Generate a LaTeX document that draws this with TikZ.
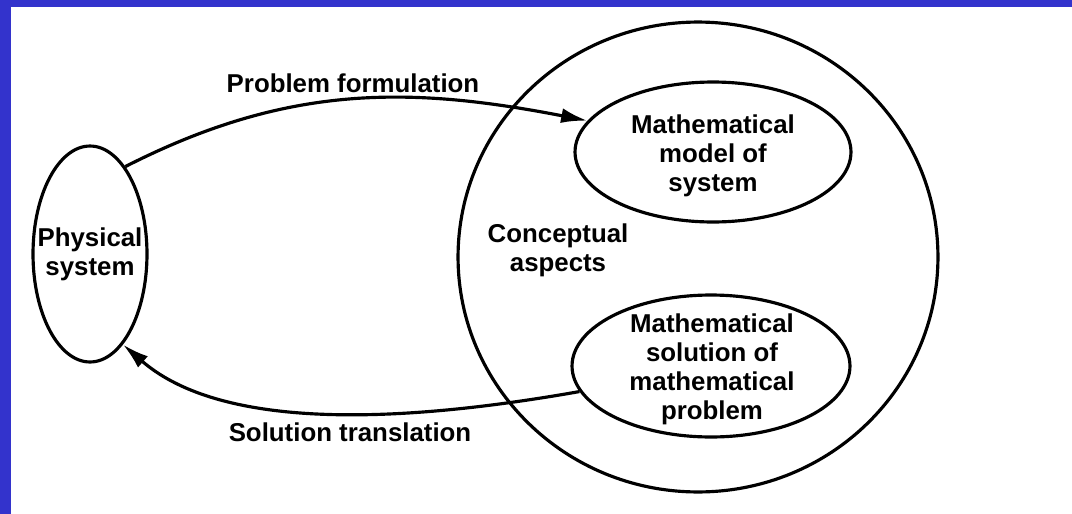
\documentclass[tikz,border=0pt]{standalone}
\usepackage{fontspec}
\setmainfont{Liberation Sans}
\usetikzlibrary{shapes.geometric,arrows.meta}
\definecolor{frameblue}{RGB}{51,51,204}

\begin{document}
\begin{tikzpicture}[x=0.02cm, y=0.02cm,
  blob/.style={draw, ellipse, line width=1.8pt, inner sep=0pt},
  txt/.style={align=center, inner sep=0pt, font=\bfseries\fontsize{14.7}{16.5}\selectfont},
  link/.style={line width=1.8pt, -{Latex[length=15pt,width=8.5pt]}}]

  % page with blue frame on top and left
  \useasboundingbox (0,0) rectangle (1072,-514);
  \fill[white] (0,0) rectangle (1072,-514);
  \fill[frameblue] (0,0) rectangle (1072,-7);
  \fill[frameblue] (0,0) rectangle (11,-514);

  % the ellipses
  \node[blob, minimum width=2.28cm, minimum height=4.32cm] (phys) at (90,-254) {};
  \node[blob, minimum width=9.6cm, minimum height=9.4cm] (concept) at (698,-257) {};
  \node[blob, minimum width=5.52cm, minimum height=2.8cm] (model) at (713,-152) {};
  \node[blob, minimum width=5.56cm, minimum height=2.84cm] (sol) at (711,-366) {};

  % texts inside
  \node[txt] (physname) at (90,-254) {Physical\\system};
  \node[txt] (conceptname) at (558,-250) {Conceptual\\aspects};
  \node[txt] (modelname) at (713,-156) {Mathematical\\model of\\system};
  \node[txt] (solname) at (712,-369) {Mathematical\\solution of\\mathematical\\problem};

  % the two arrows and their labels
  \draw[link] (phys.68) to[out=27, in=169] (model.166);
  \draw[link] (sol.191) to[out=190, in=-41, looseness=0.8] (phys.-70);
  \node[txt] (formulation) at (353,-83) {Problem formulation};
  \node[txt] (translation) at (350,-432) {Solution translation};

\end{tikzpicture}
\end{document}
